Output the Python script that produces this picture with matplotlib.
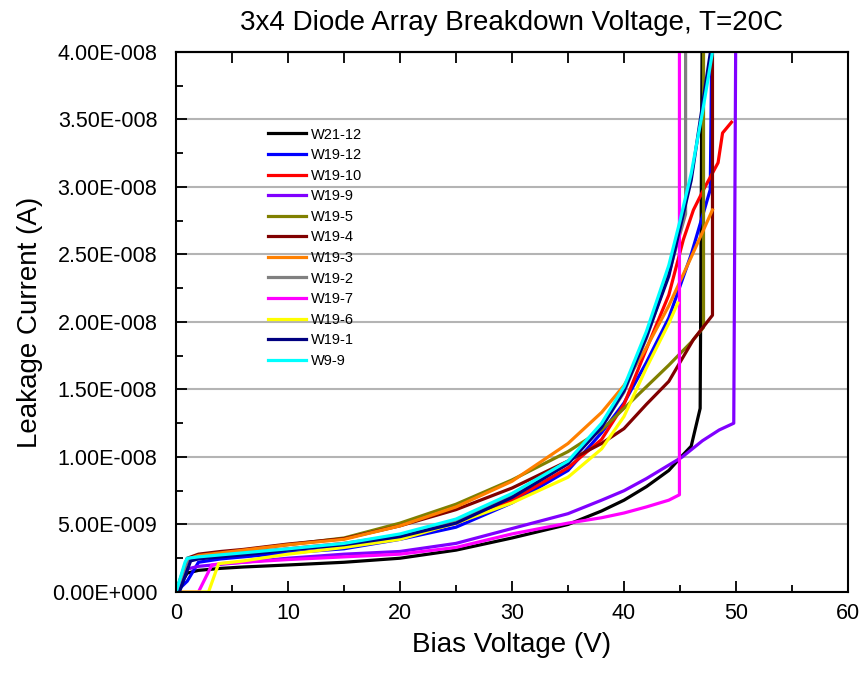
import numpy as np
import matplotlib
matplotlib.use('Agg')
import matplotlib.pyplot as plt
import matplotlib.ticker as mticker

plt.rcParams['font.family'] = ['Liberation Sans', 'DejaVu Sans']

# --- I-V sweeps per diode (bias in V, leakage in nA) ---
v_w21_12 = [0, 1, 2, 4, 6, 10, 15, 20, 25, 30, 35, 38, 40, 42, 44, 45.2, 46, 46.8, 47.0]
i_w21_12 = [0, 1.4, 1.6, 1.75, 1.85, 2.0, 2.2, 2.5, 3.1, 4.0, 5.0, 6.0, 6.8, 7.8, 9.0, 10.1, 10.8, 13.6, 45]

v_w19_12 = [0, 1, 2, 4, 6, 10, 15, 20, 25, 30, 35, 38, 40, 42, 44, 46, 47.7, 47.9]
i_w19_12 = [0, 0.8, 2.2, 2.45, 2.6, 2.9, 3.2, 3.9, 4.8, 6.6, 9.0, 11.8, 14.0, 17.0, 20.3, 25.0, 29.8, 45]

v_w19_10 = [0, 1, 2, 4, 6, 10, 15, 20, 25, 30, 35, 38, 40, 42, 44, 45.3, 46.2, 47.1, 48.4, 48.8, 49.6]
i_w19_10 = [0, 2.3, 2.5, 2.7, 2.9, 3.2, 3.6, 4.2, 5.1, 6.8, 9.2, 11.3, 13.9, 18.0, 22.0, 26.1, 28.3, 29.8, 31.8, 34.0, 34.8]

v_w19_9 = [0, 1, 2, 4, 6, 10, 15, 20, 25, 30, 35, 38, 40, 42, 44, 45.2, 47, 48.5, 49.8, 50]
i_w19_9 = [0, 1.7, 1.9, 2.05, 2.2, 2.5, 2.8, 3.0, 3.6, 4.7, 5.8, 6.8, 7.5, 8.4, 9.4, 10.0, 11.2, 12.0, 12.5, 45]

v_w19_5 = [0, 1, 2, 4, 6, 10, 15, 20, 25, 30, 35, 38, 40, 42, 44, 46, 47.1, 47.1]
i_w19_5 = [0, 2.4, 2.65, 2.85, 3.1, 3.5, 4.0, 5.1, 6.5, 8.3, 10.4, 12.0, 13.6, 15.2, 16.8, 18.5, 19.6, 45]

v_w19_4 = [0, 1, 2, 4, 6, 10, 15, 20, 25, 30, 35, 38, 40, 42, 44, 46.2, 47.9, 47.9]
i_w19_4 = [0, 2.5, 2.8, 3.0, 3.15, 3.55, 3.95, 4.9, 6.1, 7.7, 9.7, 11.0, 12.1, 13.9, 15.6, 18.7, 20.5, 45]

v_w19_3 = [0, 1, 2, 4, 6, 10, 15, 20, 25, 30, 35, 38, 40, 42, 44, 46, 47.9]
i_w19_3 = [0, 2.4, 2.7, 2.9, 3.1, 3.5, 3.9, 4.9, 6.3, 8.2, 11.0, 13.3, 15.3, 18.1, 21.2, 24.8, 28.3]

v_w19_2 = [0, 1, 2, 4, 6, 10, 15, 20, 25, 30, 35, 38, 40, 42, 44, 45.5, 45.5]
i_w19_2 = [0, 2.3, 2.5, 2.7, 2.85, 3.15, 3.5, 4.2, 5.2, 7.1, 9.5, 12.2, 14.8, 18.8, 23.6, 28.0, 45]

v_w19_7 = [0, 2, 3.2, 4, 6, 10, 15, 20, 25, 30, 35, 38, 40, 42, 44, 44.95, 44.95]
i_w19_7 = [0, 0, 2.0, 2.1, 2.2, 2.4, 2.6, 2.8, 3.3, 4.3, 5.1, 5.5, 5.85, 6.3, 6.8, 7.2, 45]

v_w19_6 = [0, 2.9, 3.8, 6, 10, 15, 20, 25, 30, 35, 38, 40, 42, 44, 44.8]
i_w19_6 = [0, 0, 2.1, 2.3, 2.8, 3.3, 3.9, 5.1, 6.6, 8.5, 10.6, 13.0, 16.6, 19.9, 21.4]

v_w19_1 = [0, 0.3, 1.3, 2, 4, 6, 10, 15, 20, 25, 30, 35, 38, 40, 42, 44, 46, 47.9]
i_w19_1 = [0, 0, 2.3, 2.45, 2.6, 2.75, 3.1, 3.5, 4.1, 5.1, 7.0, 9.5, 12.2, 14.9, 18.9, 23.4, 30.5, 41]

v_w9_9 = [0, 0.8, 1, 2, 4, 6, 10, 15, 20, 25, 30, 35, 38, 40, 42, 44, 45, 46, 47, 48.1]
i_w9_9 = [0, 2.2, 2.5, 2.6, 2.75, 2.9, 3.2, 3.6, 4.3, 5.4, 7.3, 9.7, 12.5, 15.2, 19.3, 24.2, 27.5, 31.0, 35.5, 41]

series = [
    ('W21-12', v_w21_12, i_w21_12, '#000000'),
    ('W19-12', v_w19_12, i_w19_12, '#0000ff'),
    ('W19-10', v_w19_10, i_w19_10, '#ff0000'),
    ('W19-9', v_w19_9, i_w19_9, '#8000ff'),
    ('W19-5', v_w19_5, i_w19_5, '#808000'),
    ('W19-4', v_w19_4, i_w19_4, '#800000'),
    ('W19-3', v_w19_3, i_w19_3, '#ff8000'),
    ('W19-2', v_w19_2, i_w19_2, '#808080'),
    ('W19-7', v_w19_7, i_w19_7, '#ff00ff'),
    ('W19-6', v_w19_6, i_w19_6, '#ffff00'),
    ('W19-1', v_w19_1, i_w19_1, '#000080'),
    ('W9-9', v_w9_9, i_w9_9, '#00ffff'),
]

fig = plt.figure(figsize=(8.63, 6.77), dpi=100)
ax = fig.add_axes([0.204, 0.1256, 0.7786, 0.7976])

for label, v, i, color in series:
    ax.plot(v, np.array(i) * 1e-9, color=color, lw=2.3, label=label)

ax.set_xlim(0, 60)
ax.set_ylim(0, 4e-8)

def sci_fmt(y, pos):
    mant, exp = f'{y:.2E}'.split('E')
    sign = exp[0]
    return f'{mant}E{sign}{int(exp[1:]):03d}'

ax.xaxis.set_major_locator(mticker.MultipleLocator(10))
ax.xaxis.set_minor_locator(mticker.MultipleLocator(5))
ax.yaxis.set_major_locator(mticker.MultipleLocator(5e-9))
ax.yaxis.set_minor_locator(mticker.MultipleLocator(2.5e-9))
ax.yaxis.set_major_formatter(mticker.FuncFormatter(sci_fmt))

ax.tick_params(axis='both', which='major', direction='in', length=8, width=1.3,
               labelsize=15.5, top=False, right=False)
ax.tick_params(axis='both', which='minor', direction='in', length=5, width=1.3,
               top=False, right=False)
ax.tick_params(axis='x', which='major', pad=8)
ax.tick_params(axis='y', which='major', pad=13.5)

# top axis carries ticks every 5 V
sec = ax.secondary_xaxis('top')
sec.xaxis.set_major_locator(mticker.MultipleLocator(5))
sec.tick_params(direction='in', length=8, width=1.3, labeltop=False)

for s in ax.spines.values():
    s.set_linewidth(1.5)
sec.spines['top'].set_linewidth(1.5)

ax.yaxis.grid(True, which='major', color='#b4b4b4', lw=1.5)
ax.set_axisbelow(True)

ax.set_xlabel('Bias Voltage (V)', fontsize=20, labelpad=6)
ax.set_ylabel('Leakage Current (A)', fontsize=20, labelpad=6)
ax.set_title('3x4 Diode Array Breakdown Voltage, T=20C', fontsize=20, pad=16)

ax.legend(loc='upper left', bbox_to_anchor=(0.137, 0.86), frameon=False,
          fontsize=10.5, handlelength=2.6, handletextpad=0.35, labelspacing=0.45,
          borderpad=0, borderaxespad=0)

fig.savefig('out.png', dpi=100)
